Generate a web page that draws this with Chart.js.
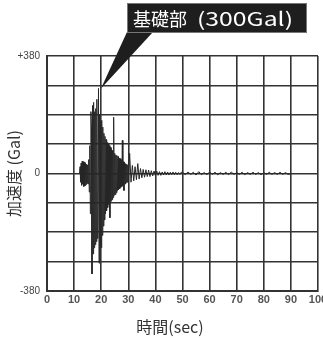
<!DOCTYPE html>
<html>
<head>
<meta charset="utf-8">
<script src="https://cdn.jsdelivr.net/npm/chart.js@4.4.0/dist/chart.umd.min.js"></script>
<style>
  html, body { margin: 0; padding: 0; background: #fff; overflow: hidden; }
  #wrap { width: 330px; height: 338px; }
</style>
</head>
<body>
<div id="wrap"><canvas id="quake"></canvas></div>
<script>
// sample times (sec) and foundation acceleration (Gal)
const burstTimes = [
  12.0, 12.2, 12.4, 12.6, 12.8, 13.0, 13.2, 13.4, 13.6, 13.8,
  14.0, 14.2, 14.4, 14.6, 14.8, 15.0, 15.2, 15.4, 15.6, 15.8,
  16.0, 16.2, 16.4, 16.6, 16.8, 17.0, 17.2, 17.4, 17.6, 17.8,
  18.0, 18.2, 18.4, 18.6, 18.8, 19.0, 19.2, 19.4, 19.6, 19.8,
  20.0, 20.2, 20.4, 20.6, 20.8, 21.0, 21.2, 21.4, 21.6, 21.8,
  22.0, 22.2, 22.4, 22.6, 22.8, 23.0, 23.2, 23.4, 23.6, 23.8,
  24.0, 24.2, 24.4, 24.6, 24.8, 25.0, 25.2, 25.4, 25.6, 25.8,
  26.0, 26.2, 26.4, 26.6, 26.8, 27.0, 27.2, 27.4, 27.6, 27.8,
  28.0, 28.2, 28.4, 28.6, 28.8, 29.0, 29.2, 29.4, 29.6, 29.8
];
const burstAccel = [
  0, 22, -28, 34, -38, 40, -34, 38, -42, 36,
  -40, 34, -36, 30, -32, 28, -34, 45, -60, 90,
  -130, 200, 150, -325, 220, -260, 230, -240, 200, -230,
  210, -220, 240, -210, -200, 275, -290, 190, -230, 160,
  -240, 172, -200, 150, -170, 130, -150, 120, -130, 110,
  -120, 100, -110, 95, -100, 90, -143, 85, -90, 80,
  -85, 75, -78, 182, -70, 65, -68, 60, -62, 58,
  -55, 55, -52, 50, -50, 48, -45, 45, -42, 107,
  -40, 38, -55, 36, -34, 32, -30, 30, -28, 28
];
const decayTimes = [
  30.0, 30.5, 31.0, 31.5, 32.0, 32.5, 33.0, 33.5, 34.0, 34.5,
  35.0, 35.5, 36.0, 36.5, 37.0, 37.5, 38.0, 38.5, 39.0, 39.5,
  40.0, 40.5, 41.0, 41.5, 42.0, 42.5, 43.0, 43.5, 44.0, 44.5,
  45.0, 45.5, 46.0, 46.5, 47.0, 47.5, 48.0, 48.5, 49.0, 49.5
];
const decayAccel = [
  -26, 65, -28, 26, -24, 22, -20, 32, -18, 16,
  -14, 13, -12, 12, -10, 11, -10, 9, -8, 8,
  -7, 8, -6, 6, -6, 5, -5, 6, -5, 5,
  -5, 4, -4, 5, -4, 4, -4, 3, -3, 4
];
const tailTimes = [
  50, 51, 52, 53, 54, 55, 56, 57, 58, 59,
  60, 61, 62, 63, 64, 65, 66, 67, 68, 69,
  70, 71, 72, 73, 74, 75, 76, 77, 78, 79,
  80, 81, 82, 83, 84, 85, 86, 87, 88, 89, 90
];
const tailAccel = [
  4, -4, 5, -3, 4, -5, 6, -4, 3, -4,
  5, -3, 4, -4, 3, -3, 4, -4, 5, -3,
  3, -3, 4, -4, 3, -3, 4, -3, 3, -4,
  3, -3, 4, -3, 3, -3, 4, -3, 3, -3, 0
];
const xTicks = [0, 10, 20, 30, 40, 50, 60, 70, 80, 90, 100];
const yLimit = 380;
const peakTime = 19.0;
const peakAccel = 275;
const calloutTitle = '基礎部';
const calloutValue = '(300Gal)';
const xTitle = '時間(sec)';

const points = [];
[[burstTimes, burstAccel], [decayTimes, decayAccel], [tailTimes, tailAccel]].forEach(function (seg) {
  seg[0].forEach(function (t, i) { points.push({ x: t, y: seg[1][i] }); });
});

const gridColor = '#333';
const cjk = "'Noto Sans CJK JP', sans-serif";

const callout = {
  id: 'callout',
  afterDraw(chart) {
    const ctx = chart.ctx;
    const tipX = chart.scales.x.getPixelForValue(peakTime) + 2.5;
    const tipY = chart.scales.y.getPixelForValue(peakAccel);
    ctx.save();
    ctx.fillStyle = '#1e1e1e';
    ctx.beginPath();
    ctx.moveTo(127, 32);
    ctx.lineTo(153, 32);
    ctx.lineTo(tipX, tipY);
    ctx.closePath();
    ctx.fill();
    ctx.fillRect(127, 3, 180, 30);
    ctx.strokeStyle = '#777';
    ctx.lineWidth = 1;
    ctx.strokeRect(127.5, 3.5, 179, 29);
    ctx.fillStyle = '#fff';
    ctx.textBaseline = 'middle';
    ctx.font = '18px ' + cjk;
    ctx.fillText(calloutTitle, 133, 19);
    ctx.font = '19px ' + cjk;
    const w = ctx.measureText(calloutValue).width;
    ctx.translate(197, 19);
    ctx.scale(96 / w, 1);
    ctx.fillText(calloutValue, 0, 0);
    ctx.restore();

    // x axis title sits a little left of the plot centre in the original
    ctx.save();
    ctx.fillStyle = '#333';
    ctx.font = '16px ' + cjk;
    ctx.textAlign = 'center';
    ctx.textBaseline = 'middle';
    ctx.fillText(xTitle, 170, 327);
    ctx.restore();
  }
};

new Chart(document.getElementById('quake'), {
  type: 'line',
  data: {
    datasets: [{
      data: points,
      borderColor: '#262626',
      borderWidth: 1,
      pointRadius: 0,
      tension: 0,
      fill: false
    }]
  },
  options: {
    responsive: true,
    maintainAspectRatio: false,
    animation: false,
    events: [],
    layout: { padding: { left: 0, right: 12, top: 56, bottom: 0 } },
    plugins: { legend: { display: false }, tooltip: { enabled: false } },
    scales: {
      x: {
        type: 'linear',
        min: 0,
        max: 100,
        afterBuildTicks(scale) { scale.ticks = xTicks.map(function (v) { return { value: v }; }); },
        afterFit(scale) { scale.height = 47; },
        grid: { color: gridColor, lineWidth: 1.6, drawTicks: false },
        border: { color: gridColor, width: 2 },
        ticks: {
          padding: 2,
          color: '#555',
          font: { family: "'Liberation Sans', sans-serif", size: 11, weight: 'bold' },
          maxRotation: 0
        }
      },
      y: {
        min: -yLimit,
        max: yLimit,
        afterFit(scale) { scale.width = 47; },
        grid: { color: gridColor, lineWidth: 1.6, drawTicks: false },
        border: { color: gridColor, width: 2 },
        ticks: {
          stepSize: 95,
          padding: 7,
          color: '#444',
          font: { family: "'Liberation Sans', sans-serif", size: 10 },
          callback(v) {
            if (v === yLimit) return '+' + yLimit;
            if (v === 0) return '0';
            if (v === -yLimit) return '-' + yLimit;
            return '';
          }
        },
        title: {
          display: true,
          text: '加速度 (Gal)',
          color: '#333',
          font: { family: cjk, size: 16 },
          padding: { top: 4, bottom: 0 }
        }
      }
    }
  },
  plugins: [callout]
});
</script>
</body>
</html>
